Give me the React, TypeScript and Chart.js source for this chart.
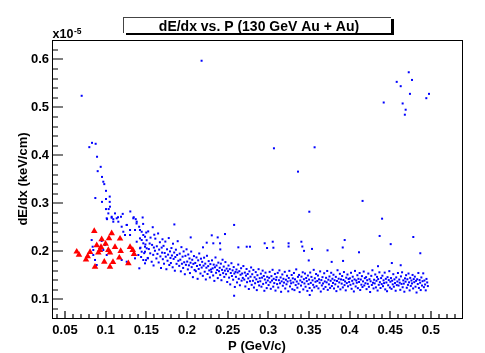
import { useEffect, useRef } from "react";
import { Chart, registerables } from "chart.js";
Chart.register(...registerables);

const titleText = "dE/dx vs. P (130 GeV Au + Au)";
const xTitle = "P (GeV/c)";
const yTitle = "dE/dx (keV/cm)";
const xTicks = [0.05, 0.1, 0.15, 0.2, 0.25, 0.3, 0.35, 0.4, 0.45, 0.5];
const xTickLabels = ["0.05", "0.1", "0.15", "0.2", "0.25", "0.3", "0.35", "0.4", "0.45", "0.5"];
const yTicks = [0.1, 0.2, 0.3, 0.4, 0.5, 0.6];
const yTickLabels = ["0.1", "0.2", "0.3", "0.4", "0.5", "0.6"];
const X_MIN = 0.034, X_MAX = 0.5383;
const Y_MIN = 0.0611, Y_MAX = 0.6402;

type P = [number, number];

const redTriangles: P[] = [
  [0.0860,0.2423],[0.1074,0.2375],[0.0951,0.2250],[0.1041,0.2271],[0.1177,0.2263],[0.0890,0.2125],
  [0.0943,0.2090],[0.1115,0.2090],[0.1300,0.2090],[0.0644,0.1992],[0.0672,0.1929],[0.0779,0.1896],
  [0.0758,0.1825],[0.0930,0.2027],[0.1033,0.2027],[0.0910,0.1971],[0.1185,0.2006],[0.1333,0.2027],
  [0.1349,0.1944],[0.1053,0.1971],[0.0983,0.1783],[0.1168,0.1867],[0.0869,0.1679],[0.1053,0.1679],
  [0.1279,0.1750],[0.0999,0.2157],[0.1090,0.1777],[0.0808,0.1985]
];

const blueTail: P[] = [
  [0.0705,0.524],[0.0832,0.426],[0.0877,0.424],[0.0799,0.417],[0.0894,0.397],[0.0939,0.376],[0.0902,0.367],
  [0.0955,0.355],[0.0971,0.345],[0.0983,0.340],[0.1004,0.326],[0.1050,0.314],[0.0873,0.311],[0.1004,0.309],
  [0.0955,0.303],[0.1050,0.303],[0.1053,0.293],[0.1004,0.288],[0.1037,0.288],[0.1033,0.279],[0.1210,0.278],
  [0.1303,0.283],[0.1074,0.272],[0.1152,0.271],[0.1094,0.267],[0.1017,0.267],[0.1345,0.271],[0.1370,0.267],
  [0.1115,0.279],[0.1189,0.272]
];

const blueNearRed: P[] = [
  [0.1013,0.2688],[0.1074,0.2700],[0.1136,0.2688],[0.1094,0.2617],[0.1156,0.2617],[0.1197,0.2513],[0.1259,0.2548],
  [0.1300,0.2444],[0.1340,0.2688],[0.1382,0.2617],[0.1217,0.2408],[0.1238,0.2340],[0.1300,0.2340],[0.1361,0.2444],
  [0.1422,0.2444],[0.1443,0.2408],[0.1463,0.2340],[0.1484,0.2304],[0.1422,0.2270],[0.1382,0.2200],[0.1443,0.2235],
  [0.1463,0.2167],[0.1484,0.2096],[0.1505,0.2063],[0.1422,0.2063],[0.1402,0.1923],[0.1361,0.1854],[0.1443,0.1992],
  [0.1484,0.1992],[0.0828,0.2235],[0.0840,0.2096],[0.0971,0.2027],[0.0992,0.2131],[0.0951,0.2215],[0.1013,0.1923],
  [0.0848,0.1923],[0.1414,0.1646],[0.1463,0.1819],[0.1484,0.1750],[0.1520,0.1854],[0.1259,0.1783],[0.1197,0.1819],
  [0.0869,0.1820],[0.0890,0.1715],[0.0848,0.2027],[0.1380,0.2580],[0.1260,0.2550],
  [0.1412,0.2512],[0.1428,0.2075],[0.1436,0.1882],[0.1455,0.2705],[0.1461,0.2571],[0.1474,0.1962],[0.1489,0.2143],
  [0.1496,0.1816],[0.1499,0.2391]
];

const blueBandA: P[] = [
  [0.1504,0.2231],[0.1517,0.1862],[0.1523,0.2415],[0.1531,0.2047],[0.1548,0.1958],[0.1552,0.2286],[0.1566,0.1783],
  [0.1571,0.2134],[0.1579,0.2502],[0.1585,0.1927],[0.1593,0.2079],[0.1598,0.2346],[0.1541,0.2163],[0.1589,0.1705],
  [0.1606,0.2012],[0.1611,0.2264],[0.1624,0.1851],[0.1629,0.2105],[0.1637,0.1947],[0.1645,0.2372],[0.1652,0.1768],
  [0.1658,0.2036],[0.1667,0.2189],[0.1673,0.1894],[0.1681,0.1652],[0.1689,0.2078],[0.1694,0.1973],[0.1699,0.2251],
  [0.1703,0.1836],[0.1712,0.2114],[0.1718,0.1742],[0.1726,0.1965],[0.1734,0.2203],[0.1739,0.1889],[0.1747,0.1627],
  [0.1755,0.2042],[0.1761,0.1804],[0.1768,0.1931],[0.1776,0.2276],[0.1783,0.1715],[0.1791,0.1998],[0.1797,0.1862],
  [0.1802,0.1757],[0.1809,0.2068],[0.1815,0.1913],[0.1824,0.1668],[0.1828,0.2159],[0.1836,0.1842],[0.1843,0.1975],
  [0.1851,0.1596],[0.1857,0.1881],[0.1864,0.2034],[0.1872,0.1739],[0.1879,0.1924],[0.1886,0.2211],[0.1894,0.1803],
  [0.1905,0.1697],[0.1911,0.1952],[0.1918,0.1826],[0.1925,0.1583],[0.1932,0.2087],[0.1938,0.1741],[0.1946,0.1889],
  [0.1953,0.1654],[0.1959,0.1998],[0.1966,0.1772],[0.1974,0.1523],[0.1981,0.1906],[0.1987,0.1718],[0.1995,0.2042],
  [0.2003,0.1786],[0.2011,0.1623],[0.2016,0.1934],[0.2024,0.1708],[0.2031,0.1851],[0.2037,0.1547],[0.2044,0.1762],
  [0.2052,0.1995],[0.2058,0.1671],[0.2065,0.1824],[0.2073,0.1462],[0.2079,0.1739],[0.2086,0.1901],[0.2094,0.1612],
  [0.2102,0.1758],[0.2109,0.1586],[0.2117,0.1873],[0.2123,0.1694],[0.2131,0.1427],[0.2138,0.1812],[0.2144,0.1633],
  [0.2151,0.1955],[0.2159,0.1716],[0.2166,0.1538],[0.2172,0.1847],[0.2181,0.1662],[0.2187,0.1781],[0.2195,0.1489],
  [0.2204,0.1702],[0.2211,0.1868],[0.2218,0.1575],[0.2225,0.1743],[0.2232,0.1414],[0.2239,0.1659],[0.2246,0.1907],
  [0.2253,0.1528],[0.2261,0.1691],[0.2267,0.1796],[0.2274,0.1602],[0.2282,0.1456],[0.2288,0.1734],[0.2296,0.1621],
  [0.2301,0.1569],[0.2308,0.1812],[0.2316,0.1645],[0.2322,0.1497],[0.2329,0.1723],[0.2337,0.1384],[0.2344,0.1668],
  [0.2351,0.1872],[0.2358,0.1553],[0.2364,0.1705],[0.2372,0.1611],[0.2379,0.1442],[0.2386,0.1764],[0.2394,0.1586],
  [0.2403,0.1657],[0.2409,0.1509],[0.2417,0.1743],[0.2424,0.1398],[0.2431,0.1614],[0.2438,0.1825],[0.2445,0.1546],
  [0.2452,0.1682],[0.2459,0.1467],[0.2466,0.1598],[0.2473,0.1776],[0.2481,0.1523],[0.2488,0.1639],[0.2495,0.1361]
];

const blueBandB: P[] = [
  [0.2504,0.1587],[0.2511,0.1704],[0.2518,0.1452],[0.2526,0.1629],[0.2532,0.1311],[0.2539,0.1548],[0.2547,0.1752],
  [0.2553,0.1486],[0.2561,0.1603],[0.2568,0.1409],[0.2575,0.1672],[0.2583,0.1537],[0.2589,0.1258],[0.2597,0.1571],
  [0.2602,0.1468],[0.2609,0.1621],[0.2616,0.1352],[0.2623,0.1559],[0.2631,0.1724],[0.2637,0.1427],[0.2644,0.1586],
  [0.2651,0.1293],[0.2659,0.1512],[0.2666,0.1648],[0.2672,0.1389],[0.2679,0.1537],[0.2687,0.1446],[0.2694,0.1693],
  [0.2705,0.1412],[0.2712,0.1557],[0.2718,0.1268],[0.2726,0.1494],[0.2733,0.1632],[0.2739,0.1357],[0.2747,0.1528],
  [0.2754,0.1436],[0.2761,0.1215],[0.2768,0.1583],[0.2775,0.1378],[0.2782,0.1471],[0.2789,0.1664],[0.2796,0.1302],
  [0.2803,0.1523],[0.2811,0.1387],[0.2817,0.1612],[0.2824,0.1246],[0.2832,0.1459],[0.2838,0.1335],[0.2846,0.1567],
  [0.2853,0.1418],[0.2859,0.1192],[0.2867,0.1502],[0.2874,0.1364],[0.2881,0.1628],[0.2888,0.1289],[0.2895,0.1441],
  [0.2902,0.1376],[0.2909,0.1534],[0.2916,0.1263],[0.2924,0.1452],[0.2931,0.1598],[0.2937,0.1321],[0.2945,0.1487],
  [0.2952,0.1178],[0.2958,0.1413],[0.2966,0.1556],[0.2973,0.1348],[0.2981,0.1234],[0.2987,0.1469],[0.2994,0.1392],
  [0.3004,0.1297],[0.3011,0.1448],[0.3017,0.1572],[0.3025,0.1356],[0.3031,0.1219],[0.3039,0.1483],[0.3046,0.1392],
  [0.3053,0.1615],[0.3061,0.1264],[0.3067,0.1427],[0.3074,0.1338],[0.3082,0.1529],[0.3089,0.1182],[0.3096,0.1406],
  [0.3102,0.1462],[0.3109,0.1317],[0.3116,0.1551],[0.3123,0.1246],[0.3131,0.1398],[0.3137,0.1603],[0.3144,0.1335],
  [0.3152,0.1456],[0.3158,0.1157],[0.3165,0.1374],[0.3173,0.1518],[0.3179,0.1283],[0.3187,0.1427],[0.3194,0.1349],
  [0.3203,0.1572],[0.3209,0.1226],[0.3217,0.1408],[0.3224,0.1314],[0.3231,0.1491],[0.3238,0.1372],[0.3246,0.1167],
  [0.3252,0.1445],[0.3259,0.1593],[0.3267,0.1268],[0.3273,0.1389],[0.3281,0.1334],[0.3288,0.1507],[0.3296,0.1211],
  [0.3302,0.1437],[0.3308,0.1352],[0.3316,0.1549],[0.3322,0.1192],[0.3329,0.1416],[0.3337,0.1297],[0.3344,0.1624],
  [0.3351,0.1371],[0.3358,0.1243],[0.3365,0.1468],[0.3372,0.1325],[0.3379,0.1508],[0.3386,0.1151],[0.3394,0.1393],
  [0.3403,0.1286],[0.3409,0.1472],[0.3417,0.1358],[0.3424,0.1563],[0.3431,0.1207],[0.3438,0.1419],[0.3445,0.1331],
  [0.3452,0.1537],[0.3459,0.1262],[0.3466,0.1443],[0.3474,0.1379],[0.3481,0.1176],[0.3487,0.1495],[0.3495,0.1317],
  [0.3502,0.1411],[0.3509,0.1236],[0.3516,0.1558],[0.3523,0.1342],[0.3531,0.1467],[0.3537,0.1183],[0.3545,0.1395],
  [0.3552,0.1302],[0.3559,0.1614],[0.3566,0.1251],[0.3573,0.1438],[0.3581,0.1366],[0.3588,0.1527],[0.3594,0.1274]
];

const blueBandC: P[] = [
  [0.3603,0.1383],[0.3611,0.1496],[0.3617,0.1228],[0.3624,0.1417],[0.3632,0.1345],[0.3638,0.1582],[0.3646,0.1162],
  [0.3653,0.1401],[0.3659,0.1289],[0.3667,0.1462],[0.3674,0.1331],[0.3681,0.1218],[0.3688,0.1543],[0.3695,0.1372],
  [0.3704,0.1258],[0.3711,0.1448],[0.3718,0.1354],[0.3725,0.1591],[0.3732,0.1197],[0.3739,0.1409],[0.3746,0.1312],
  [0.3753,0.1476],[0.3761,0.1238],[0.3767,0.1386],[0.3774,0.1553],[0.3782,0.1277],[0.3789,0.1428],[0.3796,0.1341],
  [0.3802,0.1512],[0.3809,0.1226],[0.3816,0.1397],[0.3824,0.1313],[0.3831,0.1468],[0.3838,0.1171],[0.3845,0.1382],
  [0.3852,0.1606],[0.3859,0.1264],[0.3866,0.1429],[0.3873,0.1352],[0.3881,0.1531],[0.3887,0.1208],[0.3895,0.1415],
  [0.3903,0.1327],[0.3909,0.1485],[0.3917,0.1249],[0.3924,0.1403],[0.3931,0.1568],[0.3938,0.1296],[0.3945,0.1372],
  [0.3953,0.1187],[0.3959,0.1451],[0.3966,0.1338],[0.3974,0.1517],[0.3981,0.1271],[0.3988,0.1424],[0.3995,0.1362],
  [0.4004,0.1438],[0.4011,0.1302],[0.4018,0.1553],[0.4025,0.1219],[0.4032,0.1386],[0.4039,0.1471],[0.4046,0.1327],
  [0.4053,0.1164],[0.4061,0.1415],[0.4067,0.1592],[0.4075,0.1268],[0.4082,0.1393],[0.4089,0.1346],[0.4096,0.1502],
  [0.4102,0.1233],[0.4109,0.1427],[0.4117,0.1361],[0.4124,0.1548],[0.4131,0.1194],[0.4138,0.1412],[0.4145,0.1305],
  [0.4152,0.1483],[0.4159,0.1257],[0.4166,0.1374],[0.4174,0.1578],[0.4181,0.1289],[0.4188,0.1441],[0.4195,0.1336],
  [0.4203,0.1462],[0.4209,0.1213],[0.4217,0.1398],[0.4224,0.1323],[0.4231,0.1537],[0.4238,0.1261],[0.4245,0.1419],
  [0.4253,0.1152],[0.4259,0.1376],[0.4267,0.1489],[0.4274,0.1298],[0.4281,0.1605],[0.4288,0.1345],[0.4295,0.1227],
  [0.4302,0.1408],[0.4309,0.1332],[0.4316,0.1518],[0.4324,0.1249],[0.4331,0.1386],[0.4338,0.1467],[0.4345,0.1183],
  [0.4352,0.1421],[0.4359,0.1302],[0.4367,0.1563],[0.4373,0.1357],[0.4381,0.1236],[0.4388,0.1443],[0.4395,0.1318],
  [0.4404,0.1492],[0.4411,0.1274],[0.4418,0.1395],[0.4425,0.1338],[0.4432,0.1556],[0.4439,0.1207],[0.4446,0.1427],
  [0.4453,0.1351],[0.4461,0.1169],[0.4467,0.1462],[0.4475,0.1293],[0.4482,0.1401],[0.4489,0.1587],[0.4496,0.1246],
  [0.4502,0.1367],[0.4509,0.1443],[0.4516,0.1218],[0.4524,0.1388],[0.4531,0.1312],[0.4538,0.1524],[0.4545,0.1263],
  [0.4552,0.1416],[0.4559,0.1339],[0.4567,0.1179],[0.4574,0.1457],[0.4581,0.1296],[0.4588,0.1371],[0.4595,0.1548],
  [0.4603,0.1287],[0.4611,0.1412],[0.4617,0.1346],[0.4624,0.1198],[0.4632,0.1478],[0.4639,0.1321],[0.4646,0.1563],
  [0.4653,0.1252],[0.4661,0.1394],[0.4667,0.1327],[0.4674,0.1159],[0.4682,0.1436],[0.4689,0.1368],[0.4695,0.1503],
  [0.4704,0.1241],[0.4711,0.1418],[0.4718,0.1302],[0.4725,0.1537],[0.4732,0.1354],[0.4739,0.1186],[0.4746,0.1447],
  [0.4753,0.1279],[0.4761,0.1392],[0.4768,0.1331],[0.4775,0.1508],[0.4782,0.1227],[0.4789,0.1421],[0.4796,0.1357],
  [0.4803,0.1472],[0.4811,0.1263],[0.4818,0.1385],[0.4824,0.1142],[0.4832,0.1418],[0.4839,0.1318],[0.4846,0.1549],
  [0.4853,0.1237],[0.4861,0.1402],[0.4868,0.1346],[0.4875,0.1193],[0.4883,0.1456],[0.4891,0.1287],[0.4898,0.1378],
  [0.4906,0.1541],[0.4914,0.1253],[0.4921,0.1392],[0.4929,0.1309],[0.4937,0.1187],[0.4946,0.1425],[0.4955,0.1352],
  [0.4963,0.1276]
];

const blueOutliers: P[] = [
  [0.1845,0.2560],[0.2046,0.2290],[0.2197,0.2083],[0.2243,0.2180],[0.2305,0.2333],[0.2324,0.2167],[0.2378,0.2290],
  [0.2407,0.2167],[0.2410,0.2040],[0.2468,0.2360],[0.2580,0.2550],[0.2580,0.1075],[0.2632,0.2083],[0.2735,0.2096],
  [0.2775,0.2096],[0.2956,0.2167],[0.2985,0.2069],[0.3055,0.2200],[0.3063,0.2075],[0.3070,0.4146],[0.3250,0.2167],
  [0.3250,0.2100],[0.3366,0.3660],[0.3407,0.2200],[0.3419,0.2100],[0.3440,0.2010],[0.3498,0.1810],[0.3505,0.2825],
  [0.3510,0.1090],[0.3538,0.2050],[0.3570,0.4167],[0.3729,0.2020],[0.3780,0.1780],[0.3916,0.2080],[0.3920,0.1800],
  [0.3940,0.2235],[0.4116,0.1980],[0.4160,0.3050],[0.4350,0.1690],[0.4370,0.2320],[0.4400,0.2680],[0.4420,0.5100],
  [0.4506,0.2150],[0.4520,0.1756],[0.4580,0.5530],[0.4629,0.1710],[0.4629,0.5440],[0.4653,0.5080],[0.4680,0.4846],
  [0.4690,0.4950],[0.4728,0.5730],[0.4743,0.5280],[0.4768,0.5570],[0.4784,0.2298],[0.4870,0.1960],[0.4944,0.5190],
  [0.4977,0.5280],[0.2180,0.5970]
];

const FONT = '"Liberation Sans", Arial, Helvetica, sans-serif';

const rootDecor = {
  id: "rootDecor",
  afterDraw(chart: any) {
    const ctx: CanvasRenderingContext2D = chart.ctx;
    const a = chart.chartArea;
    const xs = chart.scales.x, ys = chart.scales.y;
    const L = Math.round(a.left), R = Math.round(a.right), T = Math.round(a.top), B = Math.round(a.bottom);
    ctx.save();
    ctx.globalAlpha = 1;
    ctx.globalCompositeOperation = "source-over";
    ctx.setLineDash([]);

    // ticks as stroked paths (major every 0.05 / 0.1, minor every 0.01 / 0.02)
    ctx.strokeStyle = "#000000";
    ctx.lineWidth = 1.2;
    ctx.beginPath();
    for (let i = 4; i <= 53; i++) {
      const px = Math.round(xs.getPixelForValue(i / 100));
      const len = i % 5 === 0 ? 7 : 4;
      ctx.moveTo(px, B);
      ctx.lineTo(px, B - len);
    }
    for (let i = 4; i <= 31; i++) {
      const py = Math.round(ys.getPixelForValue(i / 50));
      const len = i % 5 === 0 ? 11 : 6;
      ctx.moveTo(L, py);
      ctx.lineTo(L + len, py);
    }
    ctx.stroke();

    // frame
    ctx.fillStyle = "#000000";
    ctx.fillRect(L, T, R - L + 1, 1);
    ctx.fillRect(L, B, R - L + 1, 1);
    ctx.fillRect(L, T, 1, B - T + 1);
    ctx.fillRect(R, T, 1, B - T + 1);

    // title box with shadow
    const bx = 123, by = 17, bw = 268, bh = 16;
    ctx.fillStyle = "#000";
    ctx.fillRect(bx + 3, by + 2, bw, bh);
    ctx.fillStyle = "#fff";
    ctx.fillRect(bx, by, bw, bh);
    ctx.fillStyle = "#444";
    ctx.fillRect(bx, by, bw, 1);
    ctx.fillRect(bx, by, 1, bh);
    ctx.fillStyle = "#000";
    ctx.font = `bold 14px ${FONT}`;
    ctx.textAlign = "center";
    ctx.textBaseline = "alphabetic";
    ctx.fillText(titleText, 259, 30.5);

    // exponent
    ctx.textAlign = "left";
    ctx.font = `bold 12.5px ${FONT}`;
    ctx.fillText("x10", 52.5, 38.3);
    ctx.font = `bold 8.5px ${FONT}`;
    ctx.fillText("-5", 74, 33.5);

    // axis titles
    ctx.font = `bold 13px ${FONT}`;
    ctx.textAlign = "center";
    ctx.fillText(xTitle, (a.left + a.right) / 2, 350);
    ctx.translate(27, (a.top + a.bottom) / 2);
    ctx.rotate(-Math.PI / 2);
    ctx.fillText(yTitle, 0, 0);
    ctx.restore();
  },
};

export default function App() {
  const ref = useRef<HTMLCanvasElement>(null);
  useEffect(() => {
    if (!ref.current) return;
    const toXY = (arr: P[]) => arr.map(([x, y]) => ({ x, y }));
    const blue = [...blueTail, ...blueNearRed, ...blueBandA, ...blueBandB, ...blueBandC, ...blueOutliers];
    const chart = new Chart(ref.current, {
      type: "scatter",
      data: {
        datasets: [
          {
            label: "red",
            data: toXY(redTriangles),
            pointStyle: "triangle",
            radius: 3.8,
            backgroundColor: "#ff0000",
            borderColor: "#ff0000",
            borderWidth: 0,
          },
          {
            label: "blue",
            data: toXY(blue),
            pointStyle: "rect",
            radius: 1.42,
            backgroundColor: "#0000ff",
            borderColor: "#0000ff",
            borderWidth: 0,
          },
        ],
      },
      options: {
        animation: false,
        responsive: false,
        events: [],
        layout: { padding: { top: 40, right: 23, left: 0, bottom: 0 } },
        plugins: { legend: { display: false }, tooltip: { enabled: false }, title: { display: false } },
        scales: {
          x: {
            type: "linear",
            min: X_MIN,
            max: X_MAX,
            grid: { display: false, drawTicks: false },
            border: { display: false },
            afterBuildTicks: (s: any) => { s.ticks = xTicks.map((v) => ({ value: v })); },
            afterFit: (s: any) => { s.height = 35; },
            ticks: {
              autoSkip: false,
              maxRotation: 0,
              padding: 5,
              color: "#000",
              font: { family: FONT, size: 13, weight: "bold" },
              callback: (v: any) => { const i = xTicks.findIndex((t) => Math.abs(t - v) < 1e-6); return i >= 0 ? xTickLabels[i] : ""; },
            },
          },
          y: {
            type: "linear",
            min: Y_MIN,
            max: Y_MAX,
            grid: { display: false, drawTicks: false },
            border: { display: false },
            afterBuildTicks: (s: any) => { s.ticks = yTicks.map((v) => ({ value: v })); },
            afterFit: (s: any) => { s.width = 52; },
            ticks: {
              autoSkip: false,
              padding: 3,
              color: "#000",
              font: { family: FONT, size: 13, weight: "bold" },
              callback: (v: any) => { const i = yTicks.findIndex((t) => Math.abs(t - v) < 1e-6); return i >= 0 ? yTickLabels[i] : ""; },
            },
          },
        },
      },
      plugins: [rootDecor],
    });
    return () => chart.destroy();
  }, []);
  return (
    <div style={{ position: "fixed", left: 0, top: 0, width: 485, height: 353, background: "#fff" }}>
      <canvas ref={ref} width={485} height={353} style={{ width: 485, height: 353, display: "block" }} />
    </div>
  );
}
